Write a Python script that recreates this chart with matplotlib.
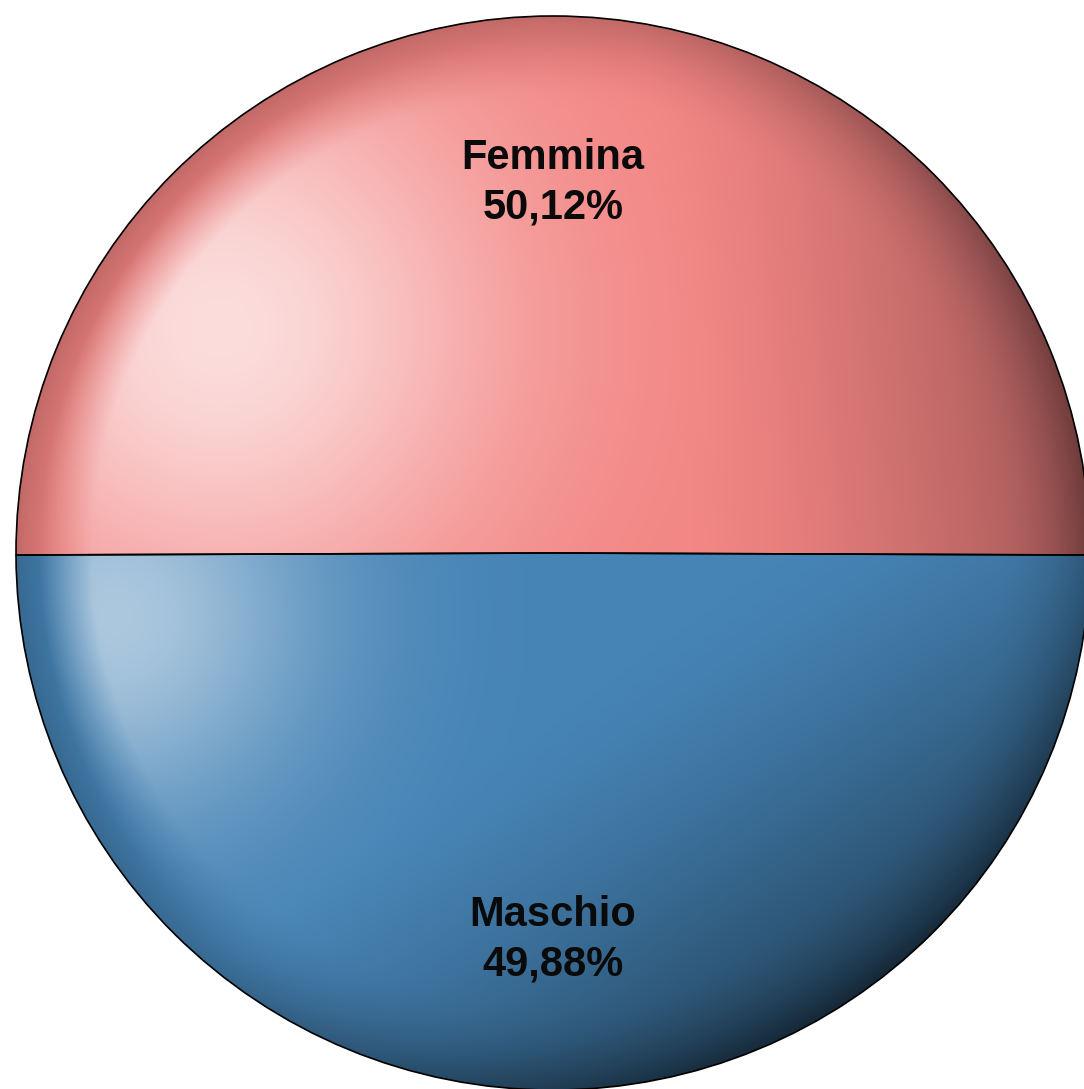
import numpy as np
import matplotlib
matplotlib.use("Agg")
import matplotlib.pyplot as plt

# data
labels = ["Femmina", "Maschio"]
values = [50.12, 49.88]
base_colors = [(242, 132, 130), (70, 132, 182)]
# glossy highlight of each slice (unit-circle coords, y up)
highlights = [(-0.62, 0.42), (-0.82, -0.12)]
hl_strength = [0.72, 0.55]
hl_width = [0.28, 0.14]
# direction in which each slice gets darker
shade_dirs = [(1.0, 0.1), (0.55, -0.83)]
shade_max = [0.34, 0.5]
dark_cap = [0.55, 0.68]

W, H = 1084, 1089
cx, cy = 553, H - 553
r = 537


def shaded_image(base, hl, hs, hw, sd, sm, cap, n=600):
    xs = np.linspace(-1, 1, n)
    u, v = np.meshgrid(xs, xs[::-1])
    d = np.sqrt(u ** 2 + v ** 2)
    base = np.array(base, dtype=float) / 255.
    # highlight toward white
    h = np.exp(-((u - hl[0]) ** 2 + (v - hl[1]) ** 2) / hw)
    h = h * np.clip((0.96 - d) / 0.1, 0, 1)
    # directional darkening
    p = u * sd[0] + v * sd[1]
    s = sm * np.clip((p - 0.25) / 0.75, 0, 1) ** 1.4
    # rim darkening
    rim = np.clip((d - 0.82) / 0.18, 0, 1) ** 2 * 0.2
    dark = np.clip(s + rim, 0, cap)
    img = base[None, None, :] * (1 - dark[..., None])
    img = img + (1 - img) * (hs * h[..., None])
    return np.clip(img, 0, 1)


fig = plt.figure(figsize=(W / 100, H / 100), dpi=100)
ax = fig.add_axes([0, 0, 1, 1])

half_extra = (values[0] - 50) / 100 * 360 / 2
wedges, _ = ax.pie(values, startangle=180 + half_extra, counterclock=False,
                   center=(cx, cy), radius=r, frame=True,
                   colors=["none", "none"],
                   wedgeprops=dict(edgecolor="black", linewidth=1.2))
ax.set_xlim(0, W)
ax.set_ylim(0, H)
ax.set_aspect("auto")
ax.axis("off")

for i, w in enumerate(wedges):
    img = shaded_image(base_colors[i], highlights[i], hl_strength[i],
                       hl_width[i], shade_dirs[i], shade_max[i], dark_cap[i])
    im = ax.imshow(img, extent=(cx - r, cx + r, cy - r, cy + r),
                   zorder=0.5, interpolation="bilinear")
    im.set_clip_path(w)
    w.set_zorder(1)

label_r = [0.69, 0.72]
for w, lab, val, lr in zip(wedges, labels, values, label_r):
    ang = np.deg2rad((w.theta1 + w.theta2) / 2)
    tx = cx + lr * r * np.cos(ang)
    ty = cy + lr * r * np.sin(ang)
    ax.text(tx, ty, lab + "\n" + ("%.2f%%" % val).replace(".", ","),
            ha="center", va="center", fontsize=30, fontweight="bold",
            family="Liberation Sans", color="#0a0a0a", linespacing=1.3,
            zorder=3)

fig.savefig("out.png", dpi=100)
